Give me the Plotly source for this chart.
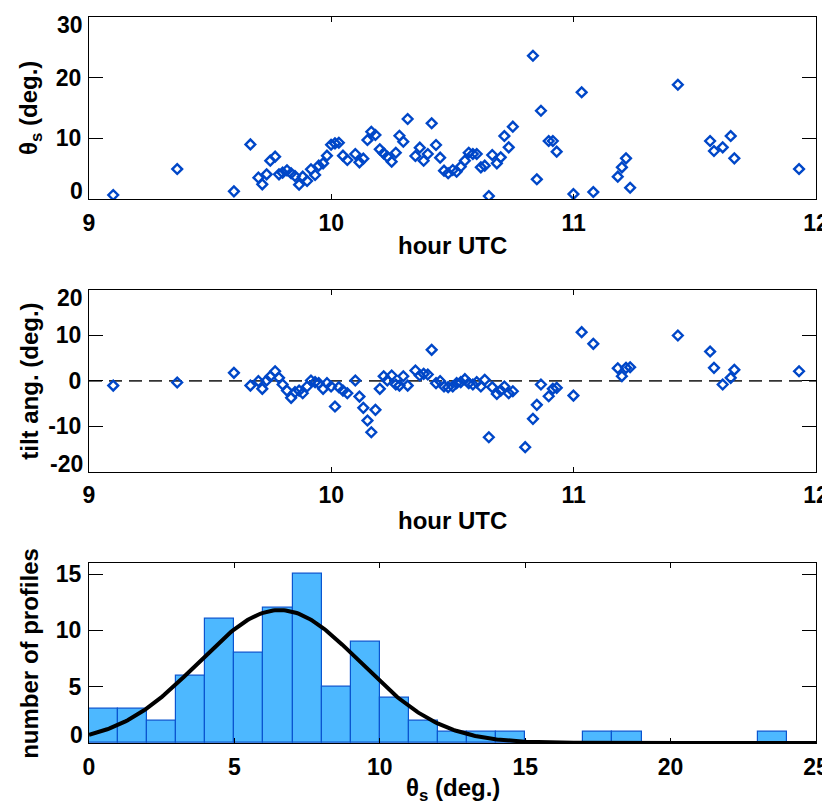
import numpy as np
import plotly.graph_objects as go

# ---------------- data ----------------
# Panel 1: theta_s vs hour UTC
time_theta = [9.10, 9.364, 9.598, 9.666, 9.699, 9.715, 9.733, 9.748, 9.768, 9.784,
              9.799, 9.817, 9.834, 9.850, 9.867, 9.882, 9.900, 9.916, 9.933, 9.948,
              9.966, 9.982, 9.999, 10.015, 10.031, 10.048, 10.066, 10.099, 10.116, 10.132,
              10.149, 10.165, 10.182, 10.200, 10.216, 10.231, 10.249, 10.266, 10.281, 10.297,
              10.315, 10.347, 10.365, 10.381, 10.398, 10.414, 10.432, 10.449, 10.465, 10.482,
              10.501, 10.517, 10.534, 10.551, 10.567, 10.584, 10.600, 10.617, 10.633, 10.650,
              10.664, 10.683, 10.699, 10.714, 10.732, 10.749, 10.832, 10.848, 10.865, 10.897,
              10.914, 10.930, 10.999, 11.033, 11.081, 11.182, 11.199, 11.216, 11.233, 11.430,
              11.563, 11.579, 11.615, 11.648, 11.663, 11.930]
theta_s = [0.66, 4.94, 1.26, 9.0, 3.52, 2.42, 4.07, 6.32, 6.98, 4.07,
           4.34, 4.73, 4.24, 3.79, 2.36, 3.68, 2.97, 4.89, 3.96, 5.49,
           5.88, 7.14, 8.95, 9.18, 9.28, 7.14, 6.43, 7.42, 6.05, 6.65,
           9.72, 11.09, 10.55, 8.19, 7.53, 6.97, 6.15, 7.63, 10.43, 9.45,
           13.19, 7.09, 8.46, 6.31, 7.42, 12.48, 8.9, 6.81, 4.67, 4.24,
           4.78, 4.51, 5.33, 6.32, 7.63, 7.42, 7.42, 5.22, 5.49, 0.49,
           7.25, 5.88, 6.87, 10.38, 8.52, 11.92, 23.62, 3.25, 14.55, 9.56,
           9.56, 7.8, 0.82, 17.59, 1.15, 3.68, 5.22, 6.70, 1.86, 18.84,
           9.56, 7.91, 8.52, 10.38, 6.70, 4.94]

# Panel 2: tilt angle vs hour UTC
time_tilt = [9.10, 9.364, 9.598, 9.666, 9.699, 9.715, 9.733, 9.748, 9.768, 9.784,
             9.799, 9.817, 9.834, 9.850, 9.867, 9.882, 9.900, 9.916, 9.933, 9.948,
             9.966, 9.982, 9.999, 10.015, 10.031, 10.048, 10.066, 10.099, 10.116, 10.132,
             10.149, 10.165, 10.182, 10.200, 10.216, 10.231, 10.249, 10.266, 10.281, 10.297,
             10.315, 10.347, 10.365, 10.381, 10.398, 10.414, 10.432, 10.449, 10.465, 10.482,
             10.501, 10.517, 10.534, 10.551, 10.567, 10.584, 10.600, 10.617, 10.633, 10.650,
             10.664, 10.683, 10.699, 10.714, 10.732, 10.749, 10.800, 10.832, 10.848, 10.865,
             10.897, 10.914, 10.930, 10.999, 11.033, 11.081, 11.182, 11.199, 11.216, 11.233,
             11.430, 11.563, 11.579, 11.615, 11.648, 11.663, 11.930]
tilt_ang = [-1.04, -0.37, 1.76, -1.04, -0.07, -1.76, 0.07, 0.95, 2.11, 0.66,
            -0.81, -2.14, -3.74, -2.5, -2.14, -2.73, -1.25, 0.07, -0.29, -0.51,
            -1.76, -0.51, -1.25, -5.66, -1.40, -2.14, -2.73, 0.07, -3.46, -5.95,
            -8.74, -11.32, -6.39, -1.76, 1.02, 0.07, 1.17, -0.81, -1.04, 1.02,
            -1.04, 2.27, 1.17, 1.54, 1.39, 6.83, -0.51, -0.07, -1.25, -1.40,
            -1.25, -0.51, -0.29, 0.36, -0.51, -0.81, -0.29, -1.25, 0.22, -12.42,
            -1.40, -2.87, -2.14, -1.25, -2.73, -2.29, -14.6, -8.37, -5.29, -0.81,
            -3.39, -1.76, -1.54, -3.24, 10.71, 8.15, 2.78, 1.02, 2.86, 3.0,
            9.98, 6.45, 2.86, -0.81, 0.66, 2.42, 2.11]

# Panel 3: histogram of theta_s (1-degree bins) and fitted normal curve
bin_left = [0, 1, 2, 3, 4, 5, 6, 7, 8, 9, 10, 11, 12, 13, 14, 17, 18, 23]
bin_count = [3, 3, 2, 6, 11, 8, 12, 15, 5, 9, 4, 2, 1, 1, 1, 1, 1, 1]
fit_mean = 6.55
fit_sigma = 2.78
fit_peak = 11.8

# tick values / labels
hour_ticks = [9, 10, 11, 12]
theta_ticks = [0, 10, 20, 30]
tilt_ticks = [-20, -10, 0, 10, 20]
count_ticks = [0, 5, 10, 15]
hist_x_ticks = [0, 5, 10, 15, 20, 25]

# ---------------- styling ----------------
BLUE = "#0047c8"
FAM = "Liberation Sans, Arial, sans-serif"
TICK_FONT = dict(family=FAM, size=23, color="black", weight="bold")
TITLE_FONT = dict(family=FAM, size=24, color="black", weight="bold")

fig = go.Figure()

marker = dict(symbol="diamond-open", size=7.5, color=BLUE, line=dict(width=2.4, color=BLUE))

fig.add_trace(go.Scatter(x=time_theta, y=theta_s, mode="markers", marker=marker,
                         xaxis="x", yaxis="y", showlegend=False))
fig.add_trace(go.Scatter(x=time_tilt, y=tilt_ang, mode="markers", marker=marker,
                         xaxis="x2", yaxis="y2", showlegend=False))

centers = [b + 0.5 for b in bin_left]
fig.add_trace(go.Bar(x=centers, y=bin_count, width=1.0,
                     marker=dict(color="#4db8ff", line=dict(color="#0a55d0", width=1.2)),
                     xaxis="x3", yaxis="y3", showlegend=False))

xfit = np.linspace(0, 25, 400)
yfit = fit_peak * np.exp(-(xfit - fit_mean) ** 2 / (2 * fit_sigma ** 2))
fig.add_trace(go.Scatter(x=xfit, y=yfit, mode="lines", line=dict(color="black", width=4),
                         xaxis="x3", yaxis="y3", showlegend=False))

# dashed zero line in the tilt panel
fig.add_shape(type="line", xref="x2", yref="y2", x0=9, x1=12, y0=0, y1=0,
              line=dict(color="#333333", width=1.6, dash="13px,7px"), layer="below")

common_x = dict(showline=True, linecolor="black", linewidth=1, mirror="ticks",
                ticks="inside", ticklen=5, tickcolor="black", showgrid=False, zeroline=False,
                tickfont=TICK_FONT, ticklabelstandoff=3, automargin=False,
                ticklabeloverflow="allow")
common_y = dict(showline=True, linecolor="black", linewidth=1, mirror="ticks",
                ticks="inside", ticklen=14, tickcolor="black", showgrid=False, zeroline=False,
                tickfont=TICK_FONT, ticklabelstandoff=2, automargin=False,
                ticklabeloverflow="allow")


def inner_text(vals, lo, hi):
    # end-of-axis labels are drawn separately (shifted inside the axis extent)
    return ["" if v in (lo, hi) else str(v) for v in vals]


# the page body adds an 8px offset; size the figure so the plot areas land in place
fig.update_layout(
    width=822, height=797,
    margin=dict(l=81, r=14, t=9, b=62),
    plot_bgcolor="white", paper_bgcolor="white",
    xaxis=dict(common_x, domain=[0, 1], anchor="y", range=[9, 12], tickvals=hour_ticks),
    yaxis=dict(common_y, domain=[0.7493, 1.0], anchor="x", range=[0, 30], tickvals=theta_ticks,
               ticktext=inner_text(theta_ticks, 0, 30)),
    xaxis2=dict(common_x, domain=[0, 1], anchor="y2", range=[9, 12], tickvals=hour_ticks),
    yaxis2=dict(common_y, domain=[0.3737, 0.624], anchor="x2", range=[-20, 20],
                tickvals=tilt_ticks, ticktext=inner_text(tilt_ticks, -20, 20)),
    xaxis3=dict(common_x, domain=[0, 1], anchor="y3", range=[0, 25], tickvals=hist_x_ticks),
    yaxis3=dict(common_y, domain=[0, 0.2483], anchor="x3", range=[0, 16], tickvals=count_ticks,
                ticktext=inner_text(count_ticks, 0, 16)),
    bargap=0,
)

# end-of-axis tick labels, kept inside the axis extent
def end_label(yref, val, top):
    fig.add_annotation(text=str(val), xref="paper", yref=yref, x=0, y=val,
                       xanchor="right", yanchor="middle", xshift=-4,
                       yshift=(-8 if top else 8), showarrow=False, font=TICK_FONT)

end_label("y", 30, True)
end_label("y", 0, False)
end_label("y2", 20, True)
end_label("y2", -20, False)
end_label("y3", 0, False)

# axis titles placed as annotations (paper coordinates)
def xtitle(text, y):
    fig.add_annotation(text=text, xref="paper", yref="paper", x=0.5, y=y,
                       xanchor="center", yanchor="middle", showarrow=False, font=TITLE_FONT)

def ytitle(text, y):
    fig.add_annotation(text=text, xref="paper", yref="paper", x=-0.0812, y=y,
                       xanchor="center", yanchor="middle", showarrow=False,
                       textangle=-90, font=TITLE_FONT)

xtitle("hour UTC", 0.6846)
xtitle("hour UTC", 0.307)
xtitle("θ<sub>s</sub> (deg.)", -0.064)
ytitle("θ<sub>s</sub> (deg.)", 0.8746)
ytitle("tilt ang. (deg.)", 0.4989)
ytitle("number of profiles", 0.1242)

fig.write_html("out.html")
